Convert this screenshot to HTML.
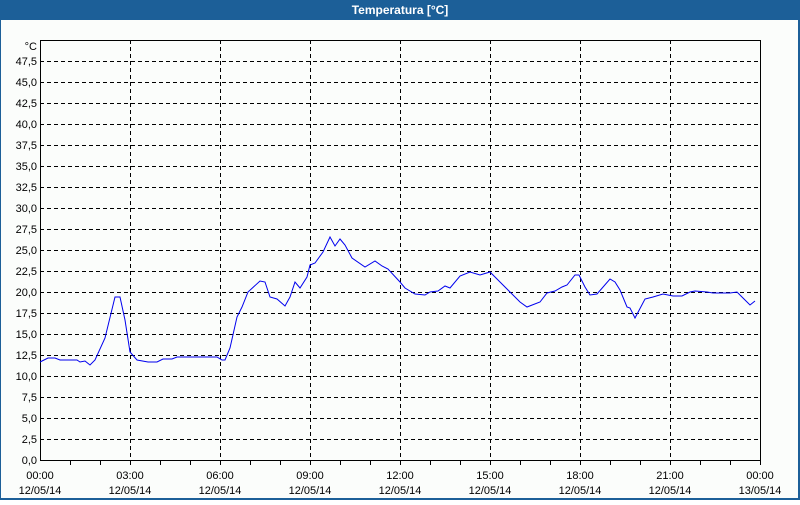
<!DOCTYPE html>
<html><head><meta charset="utf-8"><style>
body{margin:0;width:800px;height:500px;overflow:hidden;font-family:"Liberation Sans",sans-serif}
</style></head><body>
<svg width="800" height="500" xmlns="http://www.w3.org/2000/svg" font-family="Liberation Sans, sans-serif" font-size="11">
<rect x="0" y="0" width="800" height="500" fill="#1c5f98"/>
<rect x="1" y="20" width="797" height="478" fill="#fbfdfb"/>
<text x="400" y="14" fill="#fff" font-weight="bold" text-anchor="middle" font-size="12">Temperatura [°C]</text>
<g stroke="#000" stroke-dasharray="4,3" stroke-width="1">
<path d="M40 439.5H760M40 418.5H760M40 397.5H760M40 376.5H760M40 355.5H760M40 334.5H760M40 313.5H760M40 292.5H760M40 271.5H760M40 250.5H760M40 229.5H760M40 208.5H760M40 187.5H760M40 166.5H760M40 145.5H760M40 124.5H760M40 103.5H760M40 82.5H760M40 61.5H760"/>
<path d="M130.5 40V460M220.5 40V460M310.5 40V460M400.5 40V460M490.5 40V460M580.5 40V460M670.5 40V460"/>
</g>
<rect x="40.5" y="40.5" width="720" height="420" fill="none" stroke="#000"/>
<g stroke="#000">
<path d="M70.5 460v5M100.5 460v5M130.5 460v5M160.5 460v5M190.5 460v5M220.5 460v5M250.5 460v5M280.5 460v5M310.5 460v5M340.5 460v5M370.5 460v5M400.5 460v5M430.5 460v5M460.5 460v5M490.5 460v5M520.5 460v5M550.5 460v5M580.5 460v5M610.5 460v5M640.5 460v5M670.5 460v5M700.5 460v5M730.5 460v5M760.5 460v5"/>
</g>
<g text-anchor="end" fill="#000">
<text x="37" y="50">°C</text>
<text x="37" y="65">47,5</text><text x="37" y="86">45,0</text><text x="37" y="107">42,5</text><text x="37" y="128">40,0</text><text x="37" y="149">37,5</text><text x="37" y="170">35,0</text><text x="37" y="191">32,5</text><text x="37" y="212">30,0</text><text x="37" y="233">27,5</text><text x="37" y="254">25,0</text><text x="37" y="275">22,5</text><text x="37" y="296">20,0</text><text x="37" y="317">17,5</text><text x="37" y="338">15,0</text><text x="37" y="359">12,5</text><text x="37" y="380">10,0</text><text x="37" y="401">7,5</text><text x="37" y="422">5,0</text><text x="37" y="443">2,5</text><text x="37" y="464">0,0</text>
</g>
<g text-anchor="middle" fill="#000">
<text x="40" y="479">00:00</text><text x="40" y="494">12/05/14</text>
<text x="130" y="479">03:00</text><text x="130" y="494">12/05/14</text>
<text x="220" y="479">06:00</text><text x="220" y="494">12/05/14</text>
<text x="310" y="479">09:00</text><text x="310" y="494">12/05/14</text>
<text x="400" y="479">12:00</text><text x="400" y="494">12/05/14</text>
<text x="490" y="479">15:00</text><text x="490" y="494">12/05/14</text>
<text x="580" y="479">18:00</text><text x="580" y="494">12/05/14</text>
<text x="670" y="479">21:00</text><text x="670" y="494">12/05/14</text>
<text x="760" y="479">00:00</text><text x="760" y="494">13/05/14</text>
</g>
<polyline fill="none" stroke="#0000ee" stroke-width="1" points="40,362 48,358 55,358 60,360 77,360 80,362 85,361 90,365 95,360 105,338 115,297 120,297 125,320 130,352 137,360 148,362 157,362 163,359 172,359 177,357 207,357 217,357 222,360 225,360 230,348 237,317 242,307 248,292 260,281 265,282 270,297 277,299 285,306 290,297 295,282 300,288 307,277 310,265 315,263 323,252 330,237 335,246 340,239 345,245 352,258 365,267 375,261 382,266 388,269 400,282 405,288 415,294 425,295 430,292 438,291 445,286 450,288 460,276 470,272 480,275 490,272 500,282 510,292 520,302 527,307 540,302 547,293 555,291 562,287 567,285 575,275 579,275 585,287 590,295 597,294 610,279 615,282 620,290 627,307 630,308 635,318 645,299 653,297 663,294 673,296 682,296 690,292 695,291 707,292 713,293 730,293 737,292 743,298 750,305 755,301"/>
</svg>
</body></html>
